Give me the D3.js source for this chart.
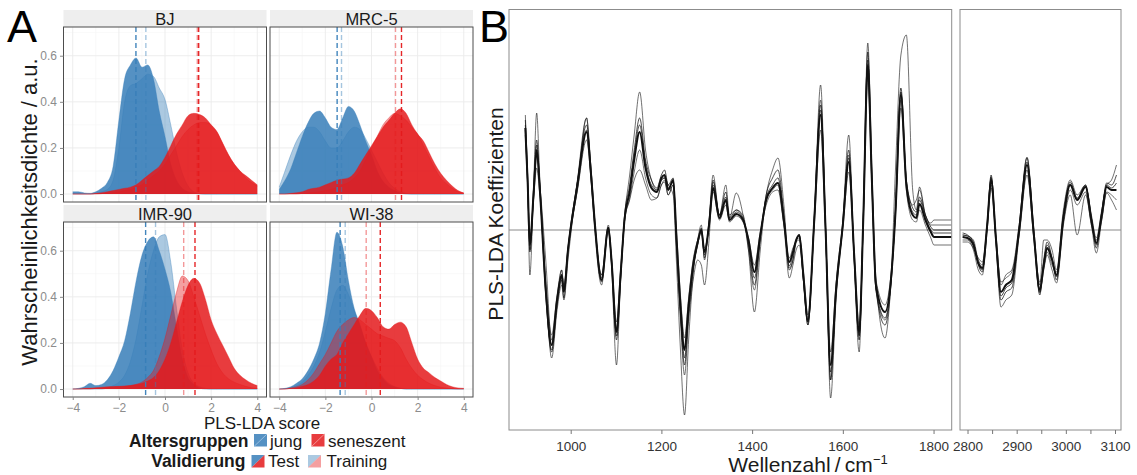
<!DOCTYPE html>
<html>
<head>
<meta charset="utf-8">
<script src="https://cdn.jsdelivr.net/npm/d3@7"></script>
<style>
  body { margin: 0; background: #fff; }
  text { font-family: "Liberation Sans", Arial, sans-serif; }
</style>
</head>
<body>
<div id="chart"></div>
<script>
// ---------- Panel A data: density of PLS-LDA scores ----------
const scoreGrid = [-4, -3.75, -3.5, -3.25, -3, -2.75, -2.5, -2.25, -2, -1.75, -1.5, -1.25, -1, -0.75, -0.5, -0.25,
    0, 0.25, 0.5, 0.75, 1, 1.25, 1.5, 1.75, 2, 2.25, 2.5, 2.75, 3, 3.25, 3.5, 3.75, 4];

const cellLines = ["BJ", "MRC-5", "IMR-90", "WI-38"];

const bjJungTest = [0.01,0.01,0.005,0.003,0.01,0.025,0.05,0.12,0.32,0.5,0.56,0.59,0.55,0.56,0.5,0.36,0.25,0.13,0.06,0.025,0.01,0.004,0,0,0,0,0,0,0,0,0,0,0];
const bjJungTraining = [0,0,0,0,0.003,0.01,0.02,0.06,0.2,0.4,0.47,0.48,0.5,0.52,0.51,0.46,0.41,0.3,0.18,0.09,0.035,0.01,0.003,0,0,0,0,0,0,0,0,0,0];
const bjSenTest = [0,0,0,0,0.003,0.006,0.01,0.015,0.02,0.025,0.03,0.04,0.06,0.08,0.1,0.12,0.16,0.21,0.26,0.3,0.34,0.35,0.345,0.33,0.3,0.27,0.22,0.17,0.13,0.1,0.08,0.06,0.04];
const bjSenTraining = [0,0,0,0,0,0.002,0.004,0.006,0.01,0.015,0.02,0.03,0.04,0.06,0.08,0.1,0.13,0.17,0.21,0.25,0.28,0.3,0.31,0.31,0.3,0.27,0.22,0.17,0.13,0.1,0.07,0.05,0.035];

const mrcJungTest = [0.02,0.06,0.11,0.18,0.25,0.31,0.35,0.36,0.33,0.29,0.28,0.33,0.38,0.36,0.3,0.23,0.17,0.1,0.055,0.03,0.015,0.005,0,0,0,0,0,0,0,0,0,0,0];
const mrcJungTraining = [0.03,0.1,0.17,0.23,0.27,0.29,0.29,0.27,0.23,0.2,0.2,0.23,0.27,0.29,0.28,0.24,0.19,0.14,0.09,0.05,0.025,0.01,0.003,0,0,0,0,0,0,0,0,0,0];
const mrcSenTest = [0,0,0.003,0.006,0.01,0.02,0.025,0.03,0.04,0.05,0.06,0.065,0.07,0.09,0.13,0.17,0.21,0.25,0.29,0.32,0.35,0.37,0.35,0.3,0.26,0.23,0.18,0.13,0.09,0.06,0.035,0.015,0.005];
const mrcSenTraining = [0,0,0,0,0.003,0.005,0.007,0.01,0.015,0.02,0.03,0.04,0.05,0.07,0.1,0.15,0.2,0.25,0.3,0.33,0.35,0.34,0.32,0.29,0.26,0.21,0.16,0.11,0.07,0.045,0.025,0.01,0.005];

const imrJungTest = [0,0.003,0.01,0.025,0.015,0.02,0.04,0.08,0.14,0.21,0.33,0.47,0.58,0.64,0.66,0.6,0.52,0.42,0.27,0.13,0.05,0.02,0.005,0,0,0,0,0,0,0,0,0,0];
const imrJungTraining = [0,0,0,0,0,0,0.005,0.015,0.03,0.06,0.12,0.22,0.36,0.5,0.6,0.66,0.67,0.55,0.35,0.17,0.07,0.025,0.01,0.003,0,0,0,0,0,0,0,0,0];
const imrSenTest = [0,0,0.003,0.004,0.006,0.008,0.01,0.011,0.012,0.013,0.015,0.02,0.025,0.035,0.05,0.08,0.13,0.2,0.29,0.38,0.45,0.48,0.46,0.39,0.3,0.24,0.19,0.14,0.09,0.06,0.04,0.025,0.015];
const imrSenTraining = [0,0,0,0,0.003,0.004,0.006,0.008,0.01,0.012,0.015,0.02,0.03,0.05,0.08,0.14,0.22,0.32,0.42,0.49,0.47,0.4,0.32,0.24,0.17,0.11,0.07,0.045,0.03,0.02,0.012,0.006,0.003];

const wiJungTest = [0,0.003,0.01,0.025,0.045,0.08,0.13,0.2,0.33,0.52,0.68,0.62,0.47,0.35,0.28,0.2,0.14,0.08,0.045,0.02,0.01,0.003,0,0,0,0,0,0,0,0,0,0,0];
const wiJungTraining = [0,0.002,0.005,0.015,0.03,0.06,0.1,0.16,0.25,0.35,0.43,0.45,0.41,0.34,0.27,0.2,0.14,0.09,0.05,0.025,0.01,0.004,0,0,0,0,0,0,0,0,0,0,0];
const wiSenTest = [0,0,0.003,0.006,0.012,0.02,0.035,0.06,0.1,0.13,0.15,0.2,0.24,0.28,0.32,0.35,0.34,0.31,0.27,0.26,0.28,0.29,0.27,0.2,0.13,0.09,0.07,0.05,0.035,0.02,0.01,0.005,0.003];
const wiSenTraining = [0,0,0.005,0.01,0.02,0.04,0.07,0.11,0.15,0.2,0.25,0.28,0.3,0.31,0.3,0.28,0.26,0.24,0.23,0.22,0.21,0.18,0.13,0.09,0.06,0.04,0.025,0.015,0.008,0.004,0.002,0,0];

// group means (dashed lines), one per cell line
const meanJungTest = [-1.26, -1.49, -0.84, -1.36];
const meanJungTraining = [-0.83, -1.30, -0.41, -1.14];
const meanSenTest = [1.46, 1.30, 1.30, 0.38];
const meanSenTraining = [1.40, 1.04, 0.81, -0.23];

const scoreTicks = [-4, -2, 0, 2, 4];
const densityTicks = [0, 0.2, 0.4, 0.6];

// ---------- Panel B data: PLS-LDA coefficients ----------
const waveFingerprint = [900,905,910,918,925,932,945,958,970,980,
    985,994,1015,1035,1045,1053,1068,1083,1090,1101,
    1110,1119,1130,1140,1152,1165,1178,1190,1200,1207,
    1215,1226,1233,1242,1251,1260,1270,1280,1288,1295,
    1305,1314,1328,1342,1350,1365,1380,1392,1405,1418,
    1431,1445,1457,1470,1482,1490,1497,1504,1513,1523,
    1537,1551,1562,1573,1585,1600,1613,1625,1636,1645,
    1655,1664,1673,1693,1706,1716,1728,1740,1754,1762,
    1769,1782,1794,1801,1840];

const coefMain = [1.02,0.5,-0.15,0.35,0.8,0.4,-0.6,-1.15,-0.7,-0.45,
    -0.62,-0.2,0.45,0.98,0.55,0.08,-0.5,0.02,-0.3,-1.02,
    -0.45,0.12,0.38,0.7,0.98,0.62,0.42,0.38,0.52,0.55,
    0.4,0.5,-0.05,-0.75,-1.2,-0.75,-0.35,-0.12,0.0,-0.22,
    0.05,0.42,0.12,0.3,0.1,0.16,0.1,-0.1,-0.42,-0.05,
    0.3,0.42,0.47,0.1,-0.32,-0.22,-0.1,-0.05,-0.45,-0.9,
    0.1,1.15,0.0,-1.35,-0.6,0.05,0.68,-0.25,-1.02,0.1,
    1.65,0.5,-0.55,-0.82,-0.5,0.17,1.35,0.45,0.15,0.12,
    0.26,0.1,-0.02,-0.07,-0.07];
const coefMid = [1.05,0.48,-0.12,0.33,0.85,0.42,-0.62,-1.2,-0.68,-0.48,
    -0.6,-0.18,0.48,1.0,0.52,0.06,-0.48,0.0,-0.32,-1.06,
    -0.48,0.1,0.4,0.75,1.05,0.66,0.45,0.4,0.5,0.52,
    0.42,0.48,-0.08,-0.8,-1.28,-0.8,-0.38,-0.14,-0.02,-0.25,
    0.06,0.45,0.14,0.33,0.1,0.18,0.11,-0.12,-0.48,-0.06,
    0.32,0.45,0.52,0.12,-0.36,-0.25,-0.1,-0.06,-0.48,-0.92,
    0.1,1.2,0.0,-1.42,-0.62,0.06,0.72,-0.26,-1.06,0.1,
    1.7,0.52,-0.58,-0.88,-0.52,0.18,1.38,0.48,0.18,0.15,
    0.3,0.12,0.0,-0.03,-0.03];
const coefHigh = [1.1,0.55,-0.22,0.4,0.9,0.45,-0.65,-1.22,-0.75,-0.5,
    -0.68,-0.22,0.5,1.05,0.6,0.1,-0.52,0.03,-0.33,-1.1,
    -0.5,0.15,0.45,0.8,1.12,0.7,0.5,0.42,0.55,0.6,
    0.45,0.52,-0.1,-0.85,-1.35,-0.85,-0.4,-0.15,0.02,-0.28,
    0.08,0.5,0.15,0.38,0.12,0.2,0.12,-0.15,-0.55,-0.08,
    0.35,0.52,0.6,0.15,-0.4,-0.3,-0.12,-0.05,-0.5,-0.95,
    0.12,1.25,0.02,-1.5,-0.65,0.08,0.8,-0.28,-1.1,0.12,
    1.78,0.55,-0.6,-0.95,-0.55,0.2,1.42,0.5,0.22,0.18,
    0.33,0.15,0.03,0.0,0.0];
const coefLow = [0.95,0.45,-0.08,0.3,0.62,0.35,-0.5,-1.05,-0.65,-0.4,
    -0.55,-0.18,0.4,0.9,0.5,0.05,-0.45,0.0,-0.28,-0.92,
    -0.4,0.1,0.32,0.58,0.8,0.52,0.35,0.32,0.45,0.5,
    0.35,0.45,0.0,-0.65,-1.08,-0.68,-0.3,-0.1,-0.02,-0.18,
    0.03,0.38,0.1,0.25,0.08,0.14,0.08,-0.08,-0.35,-0.02,
    0.25,0.38,0.4,0.05,-0.28,-0.18,-0.12,-0.1,-0.42,-0.85,
    0.05,1.0,-0.05,-1.22,-0.55,0.02,0.58,-0.22,-0.95,0.05,
    1.52,0.45,-0.5,-0.75,-0.45,0.15,1.22,0.4,0.1,0.08,
    0.2,0.05,-0.08,-0.15,-0.15];
const coefOutA = [1.15,0.55,-0.2,0.3,0.75,0.45,-0.3,-1.1,-0.72,-0.4,
    -0.58,-0.2,0.42,1.12,0.6,0.1,-0.45,0.05,-0.28,-1.0,
    -0.42,0.15,0.55,0.95,1.38,0.8,0.5,0.4,0.5,0.52,
    0.45,0.35,-0.3,-1.2,-1.85,-1.1,-0.45,-0.1,0.05,-0.3,
    0.1,0.55,0.15,0.3,0.12,0.37,0.15,-0.2,-0.6,-0.1,
    0.35,0.6,0.72,0.25,-0.38,-0.3,-0.1,-0.08,-0.5,-0.92,
    0.15,1.3,0.05,-1.68,-0.7,0.05,0.75,-0.3,-1.05,0.1,
    1.6,0.45,-0.6,-0.9,-0.5,0.6,1.75,1.95,0.4,0.2,
    0.43,0.15,0.07,0.1,0.1];
const coefOutB = [1.0,0.45,-0.45,0.4,1.17,0.5,-0.55,-1.28,-0.8,-0.55,
    -0.7,-0.3,0.5,1.12,0.5,0.0,-0.55,0.0,-0.35,-1.35,
    -0.5,0.1,0.3,0.5,0.6,0.45,0.3,0.32,0.45,0.48,
    0.35,0.45,-0.15,-0.9,-1.45,-0.9,-0.5,-0.3,-0.35,-0.55,
    -0.1,0.48,0.15,0.45,0.15,0.2,0.15,-0.2,-0.82,-0.2,
    0.3,0.4,0.45,0.05,-0.48,-0.35,-0.2,-0.15,-0.5,-0.95,
    0.1,1.45,0.0,-1.5,-0.55,0.1,0.95,-0.3,-1.22,0.15,
    1.87,0.6,-0.5,-1.08,-0.55,0.2,1.3,0.5,0.25,0.3,
    0.4,0.15,0.05,0.05,0.05];

const waveCH = [2790,2800,2812,2822,2830,2840,2848,2858,2868,2878,
    2890,2905,2921,2935,2947,2955,2962,2972,2981,2995,
    3009,3023,3040,3052,3062,3073,3083,3093,3103];
const chMain = [-0.07,-0.08,-0.15,-0.33,-0.38,0.05,0.5,-0.1,-0.62,-0.55,
    -0.5,0.0,0.65,-0.05,-0.6,-0.35,-0.18,-0.3,-0.45,0.12,
    0.45,0.3,0.43,0.1,-0.13,0.15,0.43,0.4,0.4];
const chMid = [-0.05,-0.06,-0.13,-0.34,-0.4,0.04,0.52,-0.11,-0.66,-0.58,
    -0.53,0.01,0.68,-0.04,-0.62,-0.33,-0.15,-0.29,-0.47,0.13,
    0.46,0.31,0.44,0.11,-0.15,0.16,0.45,0.42,0.47];
const chHigh = [-0.03,-0.05,-0.12,-0.35,-0.42,0.05,0.55,-0.12,-0.7,-0.62,
    -0.58,0.02,0.72,-0.02,-0.65,-0.3,-0.12,-0.28,-0.5,0.15,
    0.48,0.32,0.45,0.12,-0.18,0.18,0.47,0.45,0.55];
const chLow = [-0.12,-0.12,-0.18,-0.28,-0.32,0.02,0.42,-0.08,-0.52,-0.48,
    -0.42,-0.05,0.55,-0.08,-0.52,-0.38,-0.22,-0.35,-0.42,0.08,
    0.4,0.25,0.38,0.05,-0.1,0.1,0.38,0.35,0.3];
const chOutA = [-0.1,-0.1,-0.2,-0.4,-0.45,0.0,0.45,-0.15,-0.77,-0.7,
    -0.65,-0.05,0.6,-0.1,-0.63,-0.4,-0.25,-0.4,-0.53,0.05,
    0.35,-0.05,0.35,0.05,-0.23,0.1,0.37,0.3,0.2];
const chOutB = [-0.05,-0.06,-0.1,-0.3,-0.35,0.08,0.53,-0.05,-0.55,-0.45,
    -0.4,0.05,0.73,0.0,-0.55,-0.1,-0.1,-0.2,-0.4,0.2,
    0.5,0.35,0.45,0.15,-0.08,0.2,0.45,0.5,0.65];

const fingerprintTicks = [1000, 1200, 1400, 1600, 1800];
const chTicks = [2800, 2850, 2900, 2950, 3000, 3050, 3100];

// tables built from the arrays above
const densities = {
    "BJ": [bjJungTraining, bjJungTest, bjSenTraining, bjSenTest],
    "MRC-5": [mrcJungTraining, mrcJungTest, mrcSenTraining, mrcSenTest],
    "IMR-90": [imrJungTraining, imrJungTest, imrSenTraining, imrSenTest],
    "WI-38": [wiJungTraining, wiJungTest, wiSenTraining, wiSenTest]
};
const fpSeries = [coefLow, coefOutA, coefOutB, coefHigh, coefMid, coefMain];
const chSeries = [chLow, chOutA, chOutB, chHigh, chMid, chMain];

// ---------- drawing ----------
const blue = "#377EB8", red = "#E41A1C";
const svg = d3.select("#chart").append("svg")
    .attr("width", 1137)
    .attr("height", 475);

// Panel letters
svg.append("text").attr("x", 7).attr("y", 42).style("font-size", "45px").text("A");
svg.append("text").attr("x", 479).attr("y", 42).style("font-size", "45px").text("B");

// ---- Panel A: 2x2 facets ----
const pw = 203, ph = 175;
const facets = [
    { name: "BJ", x0: 63.5, y0: 27, strip: 10, left: true, bottom: false },
    { name: "MRC-5", x0: 270, y0: 27, strip: 10, left: false, bottom: false },
    { name: "IMR-90", x0: 63.5, y0: 222, strip: 205, left: true, bottom: true },
    { name: "WI-38", x0: 270, y0: 222, strip: 205, left: false, bottom: true }
];

const x = d3.scaleLinear().domain([-4.4, 4.4]).range([0, pw]);
const y = d3.scaleLinear().domain([-0.0345, 0.7245]).range([ph, 0]);

const area = d3.area()
    .x((d, i) => x(scoreGrid[i]))
    .y0(y(0))
    .y1(d => y(d))
    .curve(d3.curveMonotoneX);
const topLine = d3.line()
    .x((d, i) => x(scoreGrid[i]))
    .y(d => y(d))
    .curve(d3.curveMonotoneX);

// fill colour / opacity for [jung training, jung test, sen training, sen test]
const fills = [blue, blue, red, red];
const alphas = [0.42, 0.85, 0.42, 0.85];

facets.forEach((f, k) => {
    // strip
    svg.append("rect")
        .attr("x", f.x0).attr("y", f.strip)
        .attr("width", pw).attr("height", f.y0 - f.strip)
        .attr("fill", "#eeeeee");
    svg.append("text")
        .attr("x", f.x0 + pw / 2).attr("y", f.strip + 14.8)
        .attr("text-anchor", "middle")
        .style("font-size", "16.5px")
        .attr("fill", "#1a1a1a")
        .text(f.name);

    const g = svg.append("g").attr("transform", `translate(${f.x0},${f.y0})`);

    // grid
    g.selectAll(".gxm").data([-3, -1, 1, 3]).enter().append("line")
        .attr("x1", d => x(d)).attr("x2", d => x(d)).attr("y1", 0).attr("y2", ph)
        .attr("stroke", "#f5f5f5").attr("stroke-width", 0.6);
    g.selectAll(".gym").data([0.1, 0.3, 0.5, 0.7]).enter().append("line")
        .attr("y1", d => y(d)).attr("y2", d => y(d)).attr("x1", 0).attr("x2", pw)
        .attr("stroke", "#f5f5f5").attr("stroke-width", 0.6);
    g.selectAll(".gx").data(scoreTicks).enter().append("line")
        .attr("x1", d => x(d)).attr("x2", d => x(d)).attr("y1", 0).attr("y2", ph)
        .attr("stroke", "#ebebeb").attr("stroke-width", 0.9);
    g.selectAll(".gy").data(densityTicks).enter().append("line")
        .attr("y1", d => y(d)).attr("y2", d => y(d)).attr("x1", 0).attr("x2", pw)
        .attr("stroke", "#ebebeb").attr("stroke-width", 0.9);

    // densities
    densities[f.name].forEach((vals, j) => {
        g.append("path")
            .datum(vals)
            .attr("d", area)
            .attr("fill", fills[j])
            .attr("fill-opacity", alphas[j]);
        g.append("path")
            .datum(vals)
            .attr("d", topLine)
            .attr("fill", "none")
            .attr("stroke", fills[j])
            .attr("stroke-opacity", 0.6)
            .attr("stroke-width", 0.6);
    });

    // mean lines
    const means = [
        { v: meanJungTraining[k], c: blue, o: 0.45 },
        { v: meanJungTest[k], c: blue, o: 0.95 },
        { v: meanSenTraining[k], c: red, o: 0.45 },
        { v: meanSenTest[k], c: red, o: 0.95 }
    ];
    g.selectAll(".mean").data(means).enter().append("line")
        .attr("x1", d => x(d.v)).attr("x2", d => x(d.v))
        .attr("y1", 0).attr("y2", ph)
        .attr("stroke", d => d.c)
        .attr("stroke-opacity", d => d.o)
        .attr("stroke-width", 1.4)
        .attr("stroke-dasharray", "5,3");

    // border
    g.append("rect").attr("width", pw).attr("height", ph)
        .attr("fill", "none").attr("stroke", "#4d4d4d").attr("stroke-width", 1);

    if (f.bottom) {
        const ax = g.append("g").attr("transform", `translate(0,${ph})`)
            .call(d3.axisBottom(x).tickValues(scoreTicks).tickSize(3).tickPadding(3.5));
        ax.select(".domain").remove();
        ax.selectAll("line").attr("stroke", "#888");
        ax.selectAll("text").attr("fill", "#8c8c8c").style("font-size", "12px")
            .style("font-family", "'Liberation Sans', Arial, sans-serif");
    }
    if (f.left) {
        const ay = g.append("g")
            .call(d3.axisLeft(y).tickValues(densityTicks).tickFormat(d3.format(".1f")).tickSize(3.5).tickPadding(3));
        ay.select(".domain").remove();
        ay.selectAll("line").attr("stroke", "#888");
        ay.selectAll("text").attr("fill", "#8c8c8c").style("font-size", "12px")
            .style("font-family", "'Liberation Sans', Arial, sans-serif");
    }
});

// Panel A axis titles
svg.append("text")
    .attr("transform", "translate(37,212) rotate(-90)")
    .attr("text-anchor", "middle")
    .style("font-size", "22px")
    .attr("fill", "#1a1a1a")
    .text("Wahrscheinlichkeitsdichte / a.u.");
svg.append("text")
    .attr("x", 262).attr("y", 429)
    .attr("text-anchor", "middle")
    .style("font-size", "17px")
    .attr("fill", "#1a1a1a")
    .text("PLS-LDA score");

// Legend
const keyW = 13, keyH = 12.5;
svg.append("text").attr("x", 248.5).attr("y", 446.5).attr("text-anchor", "end")
    .style("font-size", "17.5px").style("font-weight", "bold").attr("fill", "#1a1a1a").text("Altersgruppen");
[{ x: 254, c: blue, line: "#a9c9e6", label: "jung", lx: 270 },
 { x: 311.5, c: red, line: "#f5a3a3", label: "seneszent", lx: 328 }].forEach(k => {
    svg.append("rect").attr("x", k.x).attr("y", 434).attr("width", keyW).attr("height", keyH)
        .attr("fill", k.c).attr("fill-opacity", 0.85);
    svg.append("line").attr("x1", k.x).attr("y1", 434 + keyH).attr("x2", k.x + keyW).attr("y2", 434)
        .attr("stroke", k.line).attr("stroke-width", 0.8);
    svg.append("text").attr("x", k.lx).attr("y", 446.5).style("font-size", "17px").attr("fill", "#1a1a1a").text(k.label);
});
svg.append("text").attr("x", 245.5).attr("y", 467).attr("text-anchor", "end")
    .style("font-size", "17.5px").style("font-weight", "bold").attr("fill", "#1a1a1a").text("Validierung");
[{ x: 251.5, o: 0.85, label: "Test", lx: 268 },
 { x: 308, o: 0.42, label: "Training", lx: 326.5 }].forEach(k => {
    const y0 = 455;
    svg.append("path")
        .attr("d", `M${k.x},${y0}L${k.x + keyW},${y0}L${k.x},${y0 + keyH}Z`)
        .attr("fill", blue).attr("fill-opacity", k.o);
    svg.append("path")
        .attr("d", `M${k.x + keyW},${y0}L${k.x + keyW},${y0 + keyH}L${k.x},${y0 + keyH}Z`)
        .attr("fill", red).attr("fill-opacity", k.o);
    svg.append("text").attr("x", k.lx).attr("y", 467).style("font-size", "17px").attr("fill", "#1a1a1a").text(k.label);
});

// ---- Panel B ----
const bTop = 9.5, bBot = 430;
const yB = d3.scaleLinear().domain([-2.0, 2.205]).range([bBot, bTop]);
const xFP = d3.scaleLinear().domain([864, 1840]).range([509, 951.7]);
const xCH = d3.scaleLinear().domain([2784.7, 3112.2]).range([960, 1121]);

const widths = [0.8, 0.8, 0.8, 1.0, 1.0, 2.0];

function spectrumPanel(xs, waves, series, ticks, id, labelled) {
    const r = xs.range();
    svg.append("clipPath").attr("id", id)
        .append("rect").attr("x", r[0]).attr("y", bTop).attr("width", r[1] - r[0]).attr("height", bBot - bTop);

    // zero line
    svg.append("line")
        .attr("x1", r[0]).attr("x2", r[1]).attr("y1", yB(0)).attr("y2", yB(0))
        .attr("stroke", "#8a8a8a").attr("stroke-width", 1);

    const line = d3.line()
        .x((d, i) => xs(waves[i]))
        .y(d => yB(d))
        .curve(d3.curveMonotoneX);

    const lg = svg.append("g").attr("clip-path", `url(#${id})`);
    series.forEach((s, i) => {
        lg.append("path")
            .datum(s)
            .attr("d", line)
            .attr("fill", "none")
            .attr("stroke", "#111")
            .attr("stroke-opacity", i === series.length - 1 ? 1 : 0.75)
            .attr("stroke-width", widths[i])
            .attr("stroke-linejoin", "round");
    });

    svg.append("rect")
        .attr("x", r[0]).attr("y", bTop).attr("width", r[1] - r[0]).attr("height", bBot - bTop)
        .attr("fill", "none").attr("stroke", "#8c8c8c").attr("stroke-width", 1);

    const ax = svg.append("g").attr("transform", `translate(0,${bBot})`)
        .call(d3.axisBottom(xs).tickValues(ticks).tickSize(4).tickPadding(7.5)
            .tickFormat(d => labelled(d) ? d : ""));
    ax.select(".domain").remove();
    ax.selectAll("line").attr("stroke", "#777");
    ax.selectAll("text").attr("fill", "#333").style("font-size", "13.5px")
        .style("font-family", "'Liberation Sans', Arial, sans-serif");
}

spectrumPanel(xFP, waveFingerprint, fpSeries, fingerprintTicks, "clipFP", d => true);
spectrumPanel(xCH, waveCH, chSeries, chTicks, "clipCH", d => d % 100 === 0);

// Panel B axis titles
svg.append("text")
    .attr("transform", "translate(503,214) rotate(-90)")
    .attr("text-anchor", "middle")
    .style("font-size", "21px")
    .attr("fill", "#1a1a1a")
    .text("PLS-LDA Koeffizienten");

const xt = svg.append("text")
    .attr("x", 808).attr("y", 472)
    .attr("text-anchor", "middle")
    .style("font-size", "21px")
    .attr("fill", "#1a1a1a");
xt.append("tspan").text("Wellenzahl\u2009/\u2009cm");
xt.append("tspan").attr("dy", -8).style("font-size", "13px").text("\u22121");
</script>
</body>
</html>
